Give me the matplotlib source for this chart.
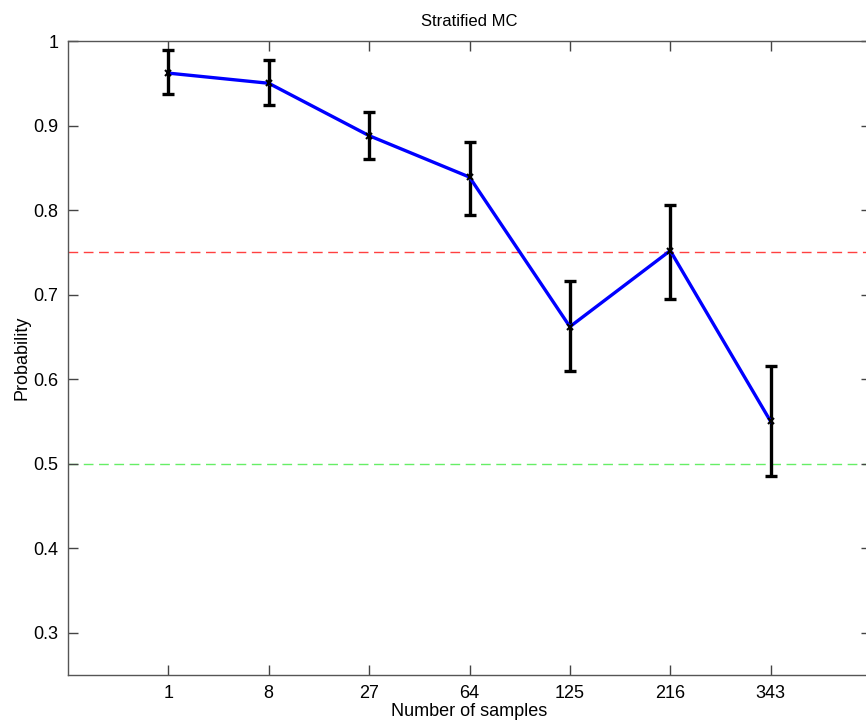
import matplotlib
matplotlib.use("Agg")
import matplotlib.pyplot as plt
import numpy as np

plt.rcParams['font.family'] = ['Liberation Sans', 'DejaVu Sans']

sample_labels = ["1", "8", "27", "64", "125", "216", "343"]
probability = [0.962, 0.950, 0.888, 0.839, 0.662, 0.752, 0.550]
err_upper = [0.989, 0.977, 0.916, 0.881, 0.716, 0.806, 0.616]
err_lower = [0.937, 0.924, 0.861, 0.794, 0.610, 0.695, 0.485]
target_level = 0.75
chance_level = 0.5

x = np.arange(1, len(sample_labels) + 1)
p = np.array(probability)
yerr = np.vstack([p - np.array(err_lower), np.array(err_upper) - p])

fig = plt.figure(figsize=(8.66, 7.27), dpi=100)
ax = fig.add_axes([68 / 866, 52 / 727, 803 / 866, 634 / 727])

ax.axhline(target_level, color='#ff4040', lw=1.0, ls=(0, (7, 4)), zorder=1)
ax.axhline(chance_level, color='#66ee66', lw=1.0, ls=(0, (7, 4)), zorder=1)

ax.errorbar(x, p, yerr=yerr, fmt='none', ecolor='black', elinewidth=2.4,
            capsize=4.0, capthick=2.4, zorder=2)
ax.plot(x, p, color='#0000ff', lw=2.4, zorder=3)
ax.plot(x, p, ls='none', marker='x', ms=5, mew=1.5, color='black', zorder=4)

ax.set_xlim(0, 8)
ax.set_ylim(0.25, 1.0)
ax.set_xticks(x)
ax.set_xticklabels(sample_labels)
ax.set_yticks([0.3, 0.4, 0.5, 0.6, 0.7, 0.8, 0.9, 1.0])
ax.set_yticklabels(["0.3", "0.4", "0.5", "0.6", "0.7", "0.8", "0.9", "1"])
ax.tick_params(direction='in', length=7, width=1, colors='#444444',
               labelcolor='black', labelsize=13, top=True, right=True, pad=7)
for s in ax.spines.values():
    s.set_color('#555555')
    s.set_linewidth(1.0)

ax.set_xlabel("Number of samples", fontsize=13, labelpad=1)
ax.set_ylabel("Probability", fontsize=13, labelpad=2)
ax.set_title("Stratified MC", fontsize=12, pad=11)

fig.savefig("out.png", dpi=100)
